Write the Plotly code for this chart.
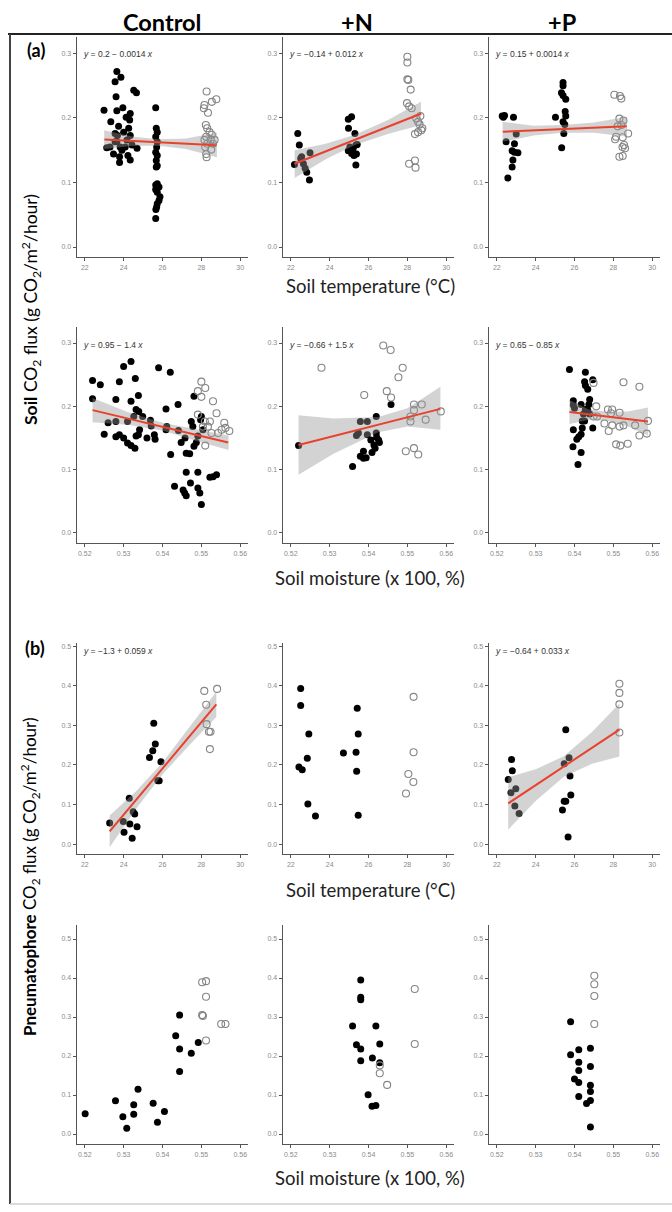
import plotly.graph_objects as go

W, H = 672, 1212

# ---------------- DATA ----------------
# (a) row 1: soil CO2 flux vs soil temperature
a_temp_ctrl_fill_x = [23.65,23.86,23.56,23.61,24.52,24.66,22.99,23.96,23.65,24.34,23.34,24.13,24.31,24.26,23.74,23.56,23.68,24.34,24.17,23.65,23.30,23.13,23.82,24.08,24.43,24.69,23.48,23.79,24.22,24.34,23.79,23.56,23.91,24.00,
                      25.65,25.68,25.73,25.65,25.73,25.70,25.65,25.73,25.68,25.73,25.68,25.73,25.65,25.82,25.65,25.73,25.87,25.82,25.73,25.70,25.66,25.65]
a_temp_ctrl_fill_y = [0.272,0.263,0.256,0.233,0.243,0.239,0.212,0.216,0.211,0.207,0.194,0.201,0.197,0.184,0.187,0.176,0.173,0.173,0.166,0.163,0.155,0.154,0.155,0.155,0.158,0.153,0.144,0.140,0.142,0.135,0.131,0.163,0.150,0.178,
                      0.216,0.184,0.178,0.171,0.163,0.155,0.147,0.142,0.134,0.126,0.124,0.098,0.096,0.093,0.089,0.085,0.078,0.072,0.067,0.062,0.058,0.044]
a_temp_ctrl_open_x = [28.27,28.77,28.54,28.16,28.13,28.34,28.23,28.30,28.42,28.54,28.25,28.16,28.48,28.30,28.60,28.20,28.51,28.25,28.27,28.68]
a_temp_ctrl_open_y = [0.241,0.229,0.225,0.220,0.215,0.208,0.189,0.184,0.178,0.174,0.171,0.166,0.166,0.160,0.160,0.155,0.151,0.144,0.139,0.166]

a_temp_n_fill_x = [22.36,22.44,22.19,22.51,22.65,22.74,22.82,22.96,22.99,22.56,24.96,25.13,24.97,25.30,25.04,25.21,25.35,25.42,24.96,25.13,25.25,25.38,25.35,25.18]
a_temp_n_fill_y = [0.176,0.158,0.128,0.137,0.129,0.122,0.116,0.104,0.146,0.140,0.198,0.202,0.184,0.176,0.155,0.153,0.158,0.159,0.149,0.145,0.142,0.144,0.127,0.147]
a_temp_n_open_x = [28.00,28.00,28.00,28.05,28.17,27.98,28.09,28.22,28.46,28.55,28.63,28.67,28.39,28.72,28.77,28.09,28.39,28.42,28.55]
a_temp_n_open_y = [0.295,0.286,0.260,0.259,0.244,0.223,0.218,0.215,0.199,0.194,0.190,0.203,0.175,0.181,0.184,0.129,0.134,0.123,0.178]

a_temp_p_fill_x = [22.28,22.40,22.34,22.48,22.86,23.00,22.91,22.79,22.91,23.09,22.83,22.79,22.57,25.41,25.41,25.33,25.41,25.55,25.52,25.55,25.02,25.50,25.45,25.34,25.41]
a_temp_p_fill_y = [0.203,0.204,0.201,0.163,0.201,0.175,0.160,0.149,0.147,0.146,0.135,0.124,0.107,0.255,0.250,0.239,0.235,0.229,0.210,0.203,0.201,0.190,0.176,0.154,0.194]
a_temp_p_open_x = [28.05,28.34,28.41,28.31,28.52,28.41,28.14,28.09,28.76,28.48,28.55,28.47,28.31,28.48,28.60,28.22]
a_temp_p_open_y = [0.236,0.234,0.230,0.199,0.196,0.189,0.171,0.167,0.176,0.170,0.158,0.155,0.140,0.141,0.153,0.187]

# (a) row 2: soil CO2 flux vs soil moisture
a_moist_ctrl_fill_x = [0.5220,0.5240,0.5220,0.5260,0.5250,0.5280,0.5289,0.5300,0.5319,0.5330,0.5280,0.5310,0.5319,0.5338,0.5332,0.5339,0.5326,0.5280,0.5289,0.5300,
                       0.5310,0.5319,0.5329,0.5332,0.5338,0.5341,0.5349,0.5360,0.5369,0.5371,0.5379,0.5381,0.5390,0.5409,0.5411,0.5409,0.5420,0.5421,0.5431,0.5440,
                       0.5441,0.5448,0.5453,0.5457,0.5461,0.5458,0.5461,0.5461,0.5470,0.5472,0.5474,0.5481,0.5481,0.5487,0.5491,0.5491,0.5496,0.5500,0.5500,0.5498,
                       0.5504,0.5522,0.5530,0.5539,0.5478,0.5491]
a_moist_ctrl_fill_y = [0.241,0.234,0.212,0.174,0.156,0.211,0.239,0.263,0.271,0.244,0.176,0.176,0.208,0.217,0.195,0.192,0.184,0.152,0.155,0.150,
                       0.142,0.138,0.134,0.153,0.155,0.163,0.184,0.150,0.178,0.169,0.155,0.148,0.261,0.196,0.168,0.163,0.254,0.124,0.074,0.203,
                       0.162,0.143,0.068,0.063,0.059,0.150,0.096,0.126,0.125,0.079,0.176,0.216,0.137,0.143,0.096,0.071,0.063,0.184,0.045,0.179,
                       0.163,0.088,0.089,0.092,0.168,0.153]
a_moist_ctrl_open_x = [0.5500,0.5491,0.5510,0.5500,0.5530,0.5491,0.5539,0.5509,0.5522,0.5510,0.5517,0.5552,0.5559,0.5562,0.5572,0.5543,0.5526,0.5504]
a_moist_ctrl_open_y = [0.239,0.224,0.229,0.215,0.208,0.187,0.189,0.176,0.176,0.138,0.168,0.163,0.174,0.166,0.161,0.158,0.158,0.168]

a_moist_n_fill_x = [0.5220,0.5359,0.5379,0.5369,0.5374,0.5397,0.5397,0.5387,0.5379,0.5387,0.5394,0.5406,0.5409,0.5417,0.5420,0.5420,0.5426,0.5428,0.5414,0.5458,0.5421]
a_moist_n_fill_y = [0.138,0.105,0.176,0.154,0.158,0.176,0.155,0.129,0.121,0.118,0.119,0.147,0.127,0.134,0.184,0.158,0.147,0.143,0.139,0.203,0.151]
a_moist_n_open_x = [0.5279,0.5438,0.5457,0.5488,0.5477,0.5389,0.5447,0.5458,0.5517,0.5537,0.5517,0.5508,0.5508,0.5547,0.5586,0.5496,0.5517,0.5528]
a_moist_n_open_y = [0.261,0.296,0.289,0.261,0.246,0.218,0.224,0.214,0.203,0.203,0.194,0.184,0.176,0.179,0.192,0.129,0.134,0.124]

a_moist_p_fill_x = [0.5387,0.5397,0.5397,0.5400,0.5397,0.5396,0.5409,0.5406,0.5411,0.5417,0.5417,0.5420,0.5417,0.5420,0.5426,0.5428,0.5426,0.5428,0.5434,0.5439,
                    0.5437,0.5428,0.5434,0.5439,0.5447,0.5447,0.5423]
a_moist_p_fill_y = [0.258,0.209,0.202,0.197,0.163,0.136,0.108,0.148,0.152,0.156,0.127,0.166,0.203,0.177,0.177,0.254,0.239,0.233,0.227,0.211,
                    0.203,0.195,0.194,0.188,0.242,0.166,0.188]
a_moist_p_open_x = [0.5449,0.5456,0.5449,0.5458,0.5477,0.5488,0.5486,0.5497,0.5497,0.5516,0.5507,0.5518,0.5537,0.5516,0.5526,0.5526,0.5567,0.5556,0.5567,0.5586,0.5589,0.5494]
a_moist_p_open_y = [0.237,0.200,0.184,0.184,0.173,0.161,0.195,0.195,0.170,0.190,0.140,0.138,0.141,0.168,0.170,0.238,0.231,0.170,0.154,0.157,0.177,0.189]

# (b) row 3: pneumatophore CO2 flux vs soil temperature
b_temp_ctrl_fill_x = [23.28,23.98,24.02,24.29,24.32,24.44,24.49,24.57,24.69,25.33,25.50,25.55,25.63,25.76,25.83,25.92]
b_temp_ctrl_fill_y = [0.053,0.057,0.030,0.116,0.051,0.015,0.082,0.076,0.044,0.219,0.236,0.305,0.253,0.160,0.160,0.208]
b_temp_ctrl_open_x = [28.15,28.81,28.25,28.27,28.39,28.47,28.44]
b_temp_ctrl_open_y = [0.387,0.392,0.352,0.303,0.284,0.284,0.240]

b_temp_n_fill_x = [22.51,22.51,22.93,22.85,22.42,22.59,22.88,23.27,24.71,25.36,25.42,25.47,25.39,25.47]
b_temp_n_fill_y = [0.393,0.350,0.278,0.217,0.195,0.188,0.101,0.071,0.230,0.232,0.343,0.278,0.184,0.073]
b_temp_n_open_x = [28.32,28.32,28.05,28.31,27.93]
b_temp_n_open_y = [0.372,0.232,0.177,0.157,0.128]

b_temp_p_fill_x = [22.59,22.76,22.80,22.73,22.98,22.93,23.15,25.55,25.47,25.72,25.77,25.81,25.38,25.47,25.55,25.67]
b_temp_p_fill_y = [0.163,0.214,0.185,0.130,0.140,0.096,0.077,0.289,0.203,0.218,0.172,0.124,0.086,0.108,0.108,0.018]
b_temp_p_open_x = [28.31,28.31,28.31,28.31]
b_temp_p_open_y = [0.405,0.382,0.353,0.282]

# (b) row 4: pneumatophore CO2 flux vs soil moisture
b_moist_ctrl_fill_x = [0.5201,0.5279,0.5298,0.5308,0.5326,0.5326,0.5337,0.5376,0.5387,0.5405,0.5434,0.5444,0.5444,0.5444,0.5474,0.5492]
b_moist_ctrl_fill_y = [0.052,0.085,0.044,0.015,0.075,0.051,0.115,0.079,0.030,0.058,0.252,0.305,0.218,0.160,0.207,0.235]
b_moist_ctrl_open_x = [0.5502,0.5512,0.5512,0.5502,0.5504,0.5551,0.5562,0.5512]
b_moist_ctrl_open_y = [0.389,0.392,0.352,0.305,0.303,0.282,0.282,0.240]

b_moist_n_fill_x = [0.5380,0.5380,0.5380,0.5359,0.5369,0.5380,0.5380,0.5410,0.5419,0.5429,0.5429,0.5399,0.5409,0.5419]
b_moist_n_fill_y = [0.395,0.351,0.344,0.277,0.229,0.218,0.188,0.195,0.277,0.231,0.183,0.101,0.071,0.073]
b_moist_n_open_x = [0.5519,0.5519,0.5429,0.5429,0.5448]
b_moist_n_open_y = [0.372,0.231,0.176,0.156,0.126]

b_moist_p_fill_x = [0.5390,0.5390,0.5411,0.5411,0.5411,0.5400,0.5411,0.5411,0.5441,0.5441,0.5441,0.5441,0.5441,0.5431,0.5441]
b_moist_p_fill_y = [0.288,0.203,0.216,0.184,0.163,0.141,0.132,0.096,0.220,0.173,0.125,0.109,0.086,0.078,0.018]
b_moist_p_open_x = [0.5451,0.5451,0.5451,0.5451]
b_moist_p_open_y = [0.406,0.384,0.354,0.282]

# fitted lines (end points) and confidence bands
fit_a_temp_ctrl = dict(x=[23.01, 28.77], y=[0.1666, 0.1578])
band_a_temp_ctrl = dict(x=[23.0, 24.5, 25.8, 27.2, 28.8], up=[0.181, 0.171, 0.167, 0.168, 0.177], lo=[0.152, 0.157, 0.157, 0.152, 0.139])
fit_a_temp_n = dict(x=[22.19, 28.72], y=[0.129, 0.207])
band_a_temp_n = dict(x=[22.2, 23.8, 25.3, 27.0, 28.7], up=[0.150, 0.160, 0.174, 0.197, 0.225], lo=[0.107, 0.136, 0.158, 0.175, 0.189])
fit_a_temp_p = dict(x=[22.31, 28.69], y=[0.1785, 0.1873])
band_a_temp_p = dict(x=[22.3, 23.9, 25.4, 27.0, 28.7], up=[0.194, 0.188, 0.189, 0.193, 0.202], lo=[0.163, 0.173, 0.177, 0.177, 0.171])
fit_a_moist_ctrl = dict(x=[0.5220, 0.5569], y=[0.194, 0.143])
band_a_moist_ctrl = dict(x=[0.522, 0.531, 0.540, 0.549, 0.557], up=[0.213, 0.191, 0.174, 0.164, 0.154], lo=[0.175, 0.171, 0.162, 0.145, 0.131])
fit_a_moist_n = dict(x=[0.5220, 0.5585], y=[0.139, 0.196])
band_a_moist_n = dict(x=[0.522, 0.531, 0.5425, 0.550, 0.5585], up=[0.186, 0.181, 0.183, 0.197, 0.231], lo=[0.092, 0.125, 0.159, 0.168, 0.163])
fit_a_moist_p = dict(x=[0.5387, 0.5589], y=[0.191, 0.176])
band_a_moist_p = dict(x=[0.5387, 0.5437, 0.5487, 0.5538, 0.5589], up=[0.210, 0.195, 0.191, 0.192, 0.198], lo=[0.172, 0.179, 0.177, 0.168, 0.154])
fit_b_temp_ctrl = dict(x=[23.28, 28.77], y=[0.032, 0.353])
band_b_temp_ctrl = dict(x=[23.28, 24.65, 26.0, 27.4, 28.77], up=[0.072, 0.134, 0.206, 0.295, 0.385], lo=[-0.008, 0.090, 0.176, 0.251, 0.321])
fit_b_temp_p = dict(x=[22.59, 28.31], y=[0.103, 0.289])
band_b_temp_p = dict(x=[22.59, 24.0, 25.45, 26.9, 28.31], up=[0.169, 0.189, 0.222, 0.283, 0.355], lo=[0.037, 0.109, 0.170, 0.203, 0.221])

equations = {
    (0, 0): "<i>y</i> = 0.2 \u2212 0.0014 <i>x</i>",
    (0, 1): "<i>y</i> = \u22120.14 + 0.012 <i>x</i>",
    (0, 2): "<i>y</i> = 0.15 + 0.0014 <i>x</i>",
    (1, 0): "<i>y</i> = 0.95 \u2212 1.4 <i>x</i>",
    (1, 1): "<i>y</i> = \u22120.66 + 1.5 <i>x</i>",
    (1, 2): "<i>y</i> = 0.65 \u2212 0.85 <i>x</i>",
    (2, 0): "<i>y</i> = \u22121.3 + 0.059 <i>x</i>",
    (2, 2): "<i>y</i> = \u22120.64 + 0.033 <i>x</i>",
}

col_titles = ["Control", "+N", "+P"]
temp_ticks = [22, 24, 26, 28, 30]
moist_ticks = [0.52, 0.53, 0.54, 0.55, 0.56]
soil_yticks = [0.0, 0.1, 0.2, 0.3]
pneu_yticks = [0.0, 0.1, 0.2, 0.3, 0.4, 0.5]

# ---------------- LAYOUT GEOMETRY ----------------
col_px = [(77, 248), (283, 454), (489, 660)]
row_px = [(37, 257), (327, 543), (643, 854), (925, 1144)]
y_ranges = [[-0.0155, 0.3255], [-0.0158, 0.3253], [-0.025, 0.508], [-0.0256, 0.536]]
temp_range = [21.6, 30.4]
moist_range = [0.518, 0.562]
eq_y_px = [54, 345, 651]

panels = [
    (0, 0, a_temp_ctrl_fill_x, a_temp_ctrl_fill_y, a_temp_ctrl_open_x, a_temp_ctrl_open_y, fit_a_temp_ctrl, band_a_temp_ctrl),
    (0, 1, a_temp_n_fill_x, a_temp_n_fill_y, a_temp_n_open_x, a_temp_n_open_y, fit_a_temp_n, band_a_temp_n),
    (0, 2, a_temp_p_fill_x, a_temp_p_fill_y, a_temp_p_open_x, a_temp_p_open_y, fit_a_temp_p, band_a_temp_p),
    (1, 0, a_moist_ctrl_fill_x, a_moist_ctrl_fill_y, a_moist_ctrl_open_x, a_moist_ctrl_open_y, fit_a_moist_ctrl, band_a_moist_ctrl),
    (1, 1, a_moist_n_fill_x, a_moist_n_fill_y, a_moist_n_open_x, a_moist_n_open_y, fit_a_moist_n, band_a_moist_n),
    (1, 2, a_moist_p_fill_x, a_moist_p_fill_y, a_moist_p_open_x, a_moist_p_open_y, fit_a_moist_p, band_a_moist_p),
    (2, 0, b_temp_ctrl_fill_x, b_temp_ctrl_fill_y, b_temp_ctrl_open_x, b_temp_ctrl_open_y, fit_b_temp_ctrl, band_b_temp_ctrl),
    (2, 1, b_temp_n_fill_x, b_temp_n_fill_y, b_temp_n_open_x, b_temp_n_open_y, None, None),
    (2, 2, b_temp_p_fill_x, b_temp_p_fill_y, b_temp_p_open_x, b_temp_p_open_y, fit_b_temp_p, band_b_temp_p),
    (3, 0, b_moist_ctrl_fill_x, b_moist_ctrl_fill_y, b_moist_ctrl_open_x, b_moist_ctrl_open_y, None, None),
    (3, 1, b_moist_n_fill_x, b_moist_n_fill_y, b_moist_n_open_x, b_moist_n_open_y, None, None),
    (3, 2, b_moist_p_fill_x, b_moist_p_fill_y, b_moist_p_open_x, b_moist_p_open_y, None, None),
]

fig = go.Figure()
layout = {}
AXC = "#555555"
TICKF = dict(family="Liberation Sans, Arial, sans-serif", size=7, color="#8a8a8a")

for (r, c, fx, fy, ox, oy, fit, band) in panels:
    n = r * 3 + c + 1
    xs = "x" if n == 1 else f"x{n}"
    ys = "y" if n == 1 else f"y{n}"
    fig.add_trace(go.Scatter(x=fx, y=fy, mode="markers", xaxis=xs, yaxis=ys,
                             marker=dict(size=7, color="black", line=dict(width=0)),
                             showlegend=False, hoverinfo="skip"))
    fig.add_trace(go.Scatter(x=ox, y=oy, mode="markers", xaxis=xs, yaxis=ys,
                             marker=dict(size=7, symbol="circle-open", color="#858585", line=dict(width=1.1)),
                             showlegend=False, hoverinfo="skip"))
    if band is not None:
        fig.add_trace(go.Scatter(x=band["x"] + band["x"][::-1], y=band["up"] + band["lo"][::-1],
                                 mode="lines", fill="toself", fillcolor="rgba(150,150,150,0.42)",
                                 line=dict(width=0), xaxis=xs, yaxis=ys, showlegend=False, hoverinfo="skip"))
        fig.add_trace(go.Scatter(x=fit["x"], y=fit["y"], mode="lines", xaxis=xs, yaxis=ys,
                                 line=dict(color="#e8412c", width=2), showlegend=False, hoverinfo="skip"))
    is_temp = (r % 2 == 0)
    x0, x1 = col_px[c]
    y0, y1 = row_px[r]
    xname = "xaxis" if n == 1 else f"xaxis{n}"
    yname = "yaxis" if n == 1 else f"yaxis{n}"
    layout[xname] = dict(domain=[x0 / W, x1 / W], range=temp_range if is_temp else moist_range,
                         anchor=ys, showline=True, linecolor=AXC, linewidth=1.4, mirror=False,
                         ticks="outside", ticklen=3, tickwidth=1, tickcolor=AXC,
                         tickvals=temp_ticks if is_temp else moist_ticks,
                         tickformat="d" if is_temp else ".2f",
                         tickfont=TICKF, showgrid=False, zeroline=False, fixedrange=True)
    layout[yname] = dict(domain=[1 - y1 / H, 1 - y0 / H], range=y_ranges[r],
                         anchor=xs, showline=True, linecolor=AXC, linewidth=1.4,
                         ticks="outside", ticklen=3, tickwidth=1, tickcolor=AXC,
                         tickvals=soil_yticks if r < 2 else pneu_yticks, tickformat=".1f",
                         tickfont=TICKF, showgrid=False, zeroline=False, fixedrange=True)

annotations = []
for (r, c), txt in equations.items():
    annotations.append(dict(xref="paper", yref="paper", x=(col_px[c][0] + 4) / W, y=1 - eq_y_px[r] / H,
                            text=txt, showarrow=False, xanchor="left", yanchor="middle",
                            font=dict(family="Liberation Sans, Arial, sans-serif", size=8.5, color="#333333")))

TF = "Lato, Open Sans, sans-serif"
for c, (t, cx) in enumerate(zip(col_titles, [162, 357, 562])):
    annotations.append(dict(xref="paper", yref="paper", x=cx / W, y=1 - 22 / H, text=f"<b>{t}</b>",
                            showarrow=False, xanchor="center", yanchor="middle",
                            font=dict(family=TF, size=23.5, color="black")))

for txt, ypx in [("Soil temperature (\u00b0C)", 286), ("Soil moisture (x 100, %)", 578),
                 ("Soil temperature (\u00b0C)", 890), ("Soil moisture (x 100, %)", 1178)]:
    annotations.append(dict(xref="paper", yref="paper", x=370 / W, y=1 - ypx / H, text=txt,
                            showarrow=False, xanchor="center", yanchor="middle",
                            font=dict(family=TF, size=18.5, color="#222222")))

annotations.append(dict(xref="paper", yref="paper", x=31 / W, y=1 - 310 / H, textangle=-90,
                        text="<b>Soil</b> CO<sub>2</sub> flux (g CO<sub>2</sub>/m<sup>2</sup>/hour)",
                        showarrow=False, xanchor="center", yanchor="middle",
                        font=dict(family=TF, size=17.5, color="black")))
annotations.append(dict(xref="paper", yref="paper", x=30 / W, y=1 - 877 / H, textangle=-90,
                        text="<b>Pneumatophore</b> CO<sub>2</sub> flux (g CO<sub>2</sub>/m<sup>2</sup>/hour)",
                        showarrow=False, xanchor="center", yanchor="middle",
                        font=dict(family=TF, size=17, color="black")))
annotations.append(dict(xref="paper", yref="paper", x=36 / W, y=1 - 50 / H, text="<b>(a)</b>",
                        showarrow=False, xanchor="center", yanchor="middle", font=dict(family=TF, size=18, color="black")))
annotations.append(dict(xref="paper", yref="paper", x=35 / W, y=1 - 648 / H, text="<b>(b)</b>",
                        showarrow=False, xanchor="center", yanchor="middle", font=dict(family=TF, size=18, color="black")))

shapes = [
    dict(type="line", xref="paper", yref="paper", x0=8 / W, x1=1, y0=1 - 34 / H, y1=1 - 34 / H,
         line=dict(color="#222222", width=2)),
    dict(type="line", xref="paper", yref="paper", x0=10 / W, x1=10 / W, y0=1 - 34 / H, y1=1 - 1204 / H,
         line=dict(color="#444444", width=2)),
    dict(type="line", xref="paper", yref="paper", x0=10 / W, x1=1, y0=1 - 1204 / H, y1=1 - 1204 / H,
         line=dict(color="#cfcfcf", width=1.5)),
]

fig.update_layout(width=W, height=H, margin=dict(l=0, r=0, t=0, b=0),
                  paper_bgcolor="white", plot_bgcolor="white",
                  annotations=annotations, shapes=shapes, **layout)

fig.write_html("out.html", config={"displayModeBar": False, "staticPlot": True},
               post_script="document.body.style.margin='0';document.body.style.padding='0';"
                           "document.documentElement.style.overflow='hidden';")
